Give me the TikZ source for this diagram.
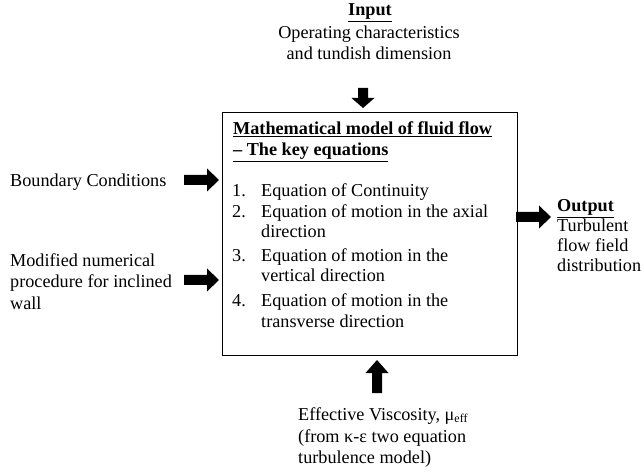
\documentclass[tikz,border=0pt]{standalone}
\usepackage{fontspec}
\setmainfont{Liberation Serif}
\begin{document}
\begin{tikzpicture}[x=1pt,y=-1pt,
  txt/.style={anchor=base west, inner sep=0pt, font=\fontsize{18.2}{20}\selectfont},
  ctr/.style={anchor=base, inner sep=0pt, font=\fontsize{18.2}{20}\selectfont},
  pics/blockarrow/.style args={#1/#2}{code={
    \fill[black] (0,-5) -- (#1-#2,-5) -- (#1-#2,-11.5) -- (#1,0) -- (#1-#2,11.5) -- (#1-#2,5) -- (0,5) -- cycle;}}]
\useasboundingbox (0,0) rectangle (643,473);
% main box
\node[draw, line width=1pt, minimum width=295pt, minimum height=243pt, inner sep=0pt, anchor=north west] (model) at (222,112) {};
% input
\node[ctr] (inhead) at (370,16) {\textbf{\underline{Input}}};
\node[ctr] (in1) at (369,39) {Operating characteristics};
\node[ctr] (in2) at (369,60) {and tundish dimension};
\pic[rotate=-90] at (363,88) {blockarrow=20/10};
% box content
\node[txt] (title1) at (233,135) {\textbf{\underline{Mathematical model of fluid flow}}};
\node[txt] (title2) at (233,156) {\textbf{\underline{– The key equations}}};
\node[txt] (n1) at (232,197) {1.};
\node[txt] (e1) at (261,197) {Equation of Continuity};
\node[txt] (n2) at (232,218) {2.};
\node[txt] (e2a) at (261,218) {Equation of motion in the axial};
\node[txt] (e2b) at (261,238) {direction};
\node[txt] (n3) at (232,262) {3.};
\node[txt] (e3a) at (261,262) {Equation of motion in the};
\node[txt] (e3b) at (261,282) {vertical direction};
\node[txt] (n4) at (232,307) {4.};
\node[txt] (e4a) at (261,307) {Equation of motion in the};
\node[txt] (e4b) at (261,327) {transverse direction};
% left inputs
\node[txt] (bc) at (10,187) {Boundary Conditions};
\pic at (184,180) {blockarrow=35/12};
\node[txt] (mn1) at (10,267) {Modified numerical};
\node[txt] (mn2) at (10,288) {procedure for inclined};
\node[txt] (mn3) at (10,309) {wall};
\pic at (184,280) {blockarrow=35/12};
% output
\pic at (516,217) {blockarrow=35/12};
\node[txt] (outhead) at (557,212) {\textbf{\underline{Output}}};
\node[txt] (out1) at (557,232) {Turbulent};
\node[txt] (out2) at (557,252) {flow field};
\node[txt] (out3) at (557,272) {distribution};
% bottom
\pic[rotate=90] at (377,393) {blockarrow=33/13};
\node[txt] (ev1) at (298,420) {Effective Viscosity, μ\raisebox{-0.3ex}{\fontsize{12}{12}\selectfont eff}};
\node[txt] (ev2) at (298,442) {(from κ-ε two equation};
\node[txt] (ev3) at (298,463) {turbulence model)};
\end{tikzpicture}
\end{document}
